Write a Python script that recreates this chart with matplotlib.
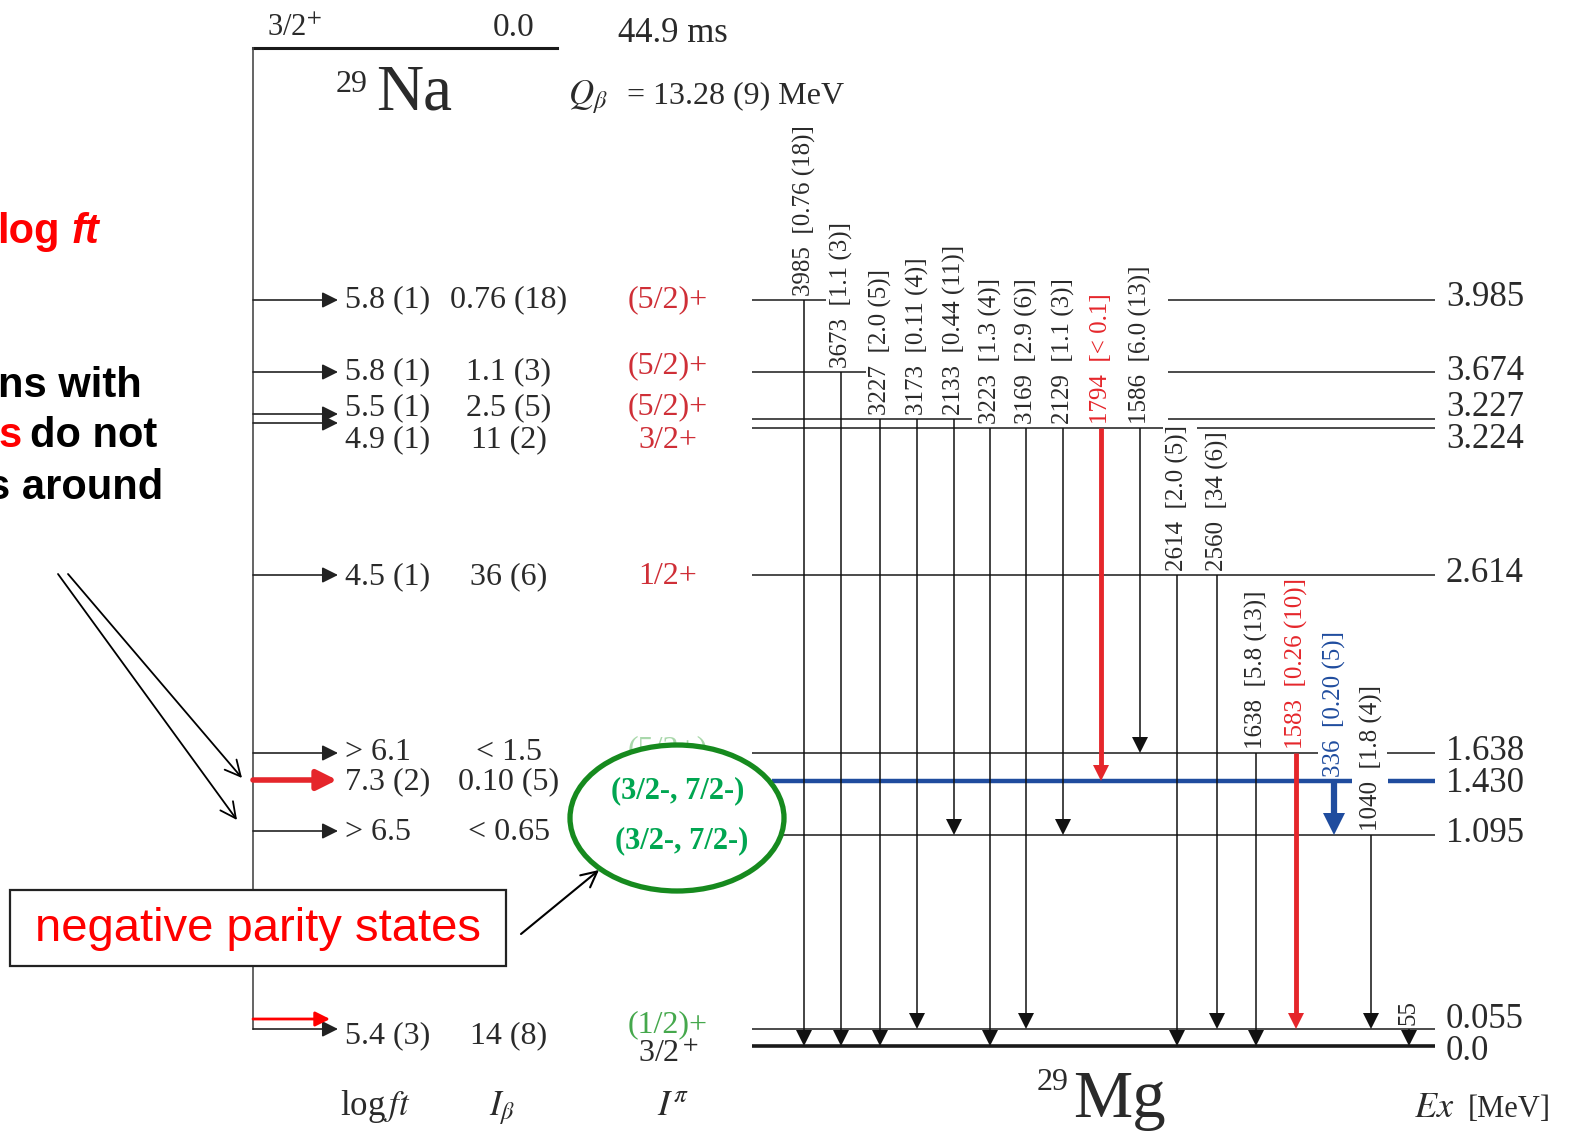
import matplotlib.pyplot as plt
from matplotlib.patches import Ellipse, Rectangle

plt.rcParams['font.family'] = ['Liberation Serif', 'DejaVu Serif']
plt.rcParams['mathtext.fontset'] = 'stix'

# 29Mg levels fed in the beta decay of 29Na
level_energy = ["3.985", "3.674", "3.227", "3.224", "2.614", "1.638", "1.430", "1.095", "0.055", "0.0"]
level_spin = ["(5/2)+", "(5/2)+", "(5/2)+", "3/2+", "1/2+", "(5/2+)",
              "(3/2-, 7/2-)", "(3/2-, 7/2-)", "(1/2)+", "3/2$^+$"]
feed_logft = ["5.8 (1)", "5.8 (1)", "5.5 (1)", "4.9 (1)", "4.5 (1)", "> 6.1", "7.3 (2)", "> 6.5", "5.4 (3)"]
feed_ibeta = ["0.76 (18)", "1.1 (3)", "2.5 (5)", "11 (2)", "36 (6)", "< 1.5", "0.10 (5)", "< 0.65", "14 (8)"]

# gamma transitions: energy [keV], intensity, initial level, final level (index into level lists)
gamma_energy = ["3985", "3673", "3227", "3173", "2133", "3223", "3169", "2129", "1794",
                "1586", "2614", "2560", "1638", "1583", "336", "1040", "55"]
gamma_inten = ["0.76 (18)", "1.1 (3)", "2.0 (5)", "0.11 (4)", "0.44 (11)", "1.3 (4)", "2.9 (6)",
               "1.1 (3)", "< 0.1", "6.0 (13)", "2.0 (5)", "34 (6)", "5.8 (13)", "0.26 (10)",
               "0.20 (5)", "1.8 (4)", ""]
gamma_from = [0, 1, 2, 2, 2, 3, 3, 3, 3, 3, 4, 4, 5, 5, 6, 7, 8]
gamma_to = [9, 9, 9, 8, 7, 9, 8, 7, 6, 5, 9, 8, 9, 8, 7, 8, 9]

# ---- layout (schematic, pixel units) ----
level_y = [300, 372, 419, 428, 575, 753, 781, 835, 1029, 1046]
level_segs = [[(752, 826), (1168, 1435)], [(752, 866), (1168, 1435)], [(752, 972), (1168, 1435)],
              [(752, 1163), (1197, 1435)], [(752, 1435)], [(752, 1318), (1387, 1435)],
              [(772, 1352), (1388, 1435)], [(775, 1435)], [(752, 1435)], [(752, 1435)]]
ex_y = [298, 372, 408, 440, 573, 751, 784, 834, 1020, 1051]
feed_y = [300, 372, 414, 423, 575, 753, 780, 831, 1029]
feed_text_y = [300, 372, 408, 440, 577, 753, 782, 832, 1036]
spin_y = [300, 366, 407, 440, 577, 750, 791, 841, 1025, 1055]
gamma_x = [804, 841, 880, 917, 954, 990, 1026, 1063, 1101, 1140, 1177, 1217, 1256, 1296, 1334, 1371, 1409]

TXT = '#2a2a2a'
RED = '#e5262b'
BLUE = '#1f4c9e'
SPIN_RED = '#cf2f37'
GREEN = '#00a651'
DKGREEN = '#168a1e'

spin_color = [SPIN_RED] * 5 + ['#a9d8ab', GREEN, GREEN, '#45a84c', TXT]
gamma_style = {"1794": (RED, 3.5, 12), "1583": (RED, 3.5, 12), "336": (BLUE, 4.5, 16)}

fig = plt.figure(figsize=(15.78, 11.32), dpi=100)
ax = fig.add_axes([0, 0, 1, 1])
ax.set_xlim(0, 1578)
ax.set_ylim(1132, 0)
ax.axis('off')

# parent 29Na
ax.plot([253, 557], [48, 48], color='#1a1a1a', lw=2.2)
ax.plot([253, 253], [48, 1029], color='#4a4a4a', lw=1.2)
ax.text(267, 29, "3/2$^{+}$", fontsize=22, color=TXT, va='center')
ax.text(493, 28, "0.0", fontsize=24, color=TXT, va='center')
ax.text(618, 34, "44.9 ms", fontsize=25, color=TXT, va='center')
ax.text(336, 92, "29", fontsize=23, color=TXT, va='baseline')
ax.text(376, 110, "Na", fontsize=47, color=TXT, va='baseline')
ax.text(568, 97, r"$Q_{\beta}$", fontsize=25, color=TXT, va='center')
ax.text(627, 96, "= 13.28 (9) MeV", fontsize=23, color=TXT, va='center')

# beta feeding arrows and columns
for i in range(len(feed_logft)):
    y = feed_y[i]
    if i == 6:
        ax.annotate("", xy=(337, y), xytext=(253, y),
                    arrowprops=dict(arrowstyle='-|>', color=RED, lw=4, mutation_scale=30,
                                    shrinkA=0, shrinkB=0))
    else:
        ax.annotate("", xy=(338, y), xytext=(253, y),
                    arrowprops=dict(arrowstyle='-|>', color='#222222', lw=1.2, mutation_scale=24,
                                    shrinkA=0, shrinkB=0))
    ax.text(345, feed_text_y[i], feed_logft[i], fontsize=23, color=TXT, va='center')
    ax.text(509, feed_text_y[i], feed_ibeta[i], fontsize=23, color=TXT, va='center', ha='center')
ax.annotate("", xy=(330, 1019), xytext=(253, 1019),
            arrowprops=dict(arrowstyle='-|>', color='red', lw=2, mutation_scale=22,
                            shrinkA=0, shrinkB=0))

# spin-parity column
for i, s in enumerate(level_spin):
    if i in (6, 7):
        continue
    ax.text(668, spin_y[i], s, fontsize=23, color=spin_color[i], va='center', ha='center')

ax.add_patch(Ellipse((677, 818), 214, 146, fc='white', ec=DKGREEN, lw=3.8, zorder=5))
for i in (6, 7):
    ax.text(678 + (i - 6) * 4, spin_y[i], level_spin[i], fontsize=22, color=GREEN,
            fontweight='bold', va='center', ha='center', zorder=6)

# 29Mg levels
for i, segs in enumerate(level_segs):
    col, lw = '#1a1a1a', 1.1
    if i == 6:
        col, lw = BLUE, 3.2
    elif i == 9:
        lw = 2.6
    for x0, x1 in segs:
        ax.plot([x0, x1], [level_y[i]] * 2, color=col, lw=lw, solid_capstyle='butt')
    ax.text(1446, ex_y[i], level_energy[i], fontsize=25, color=TXT, va='center')

# gamma transitions
for k, e in enumerate(gamma_energy):
    x = gamma_x[k]
    y0 = level_y[gamma_from[k]]
    y1 = level_y[gamma_to[k]]
    col, lw, ms = gamma_style.get(e, ('#111111', 1.1, 11))
    ax.plot([x, x], [y0, y1 - ms * 0.8], color=col, lw=lw, solid_capstyle='butt', zorder=3)
    ax.plot(x, y1 - ms * 100 / 72 / 2, marker='v', ms=ms, color=col, mew=0, zorder=3)
    lab = e if gamma_inten[k] == "" else f"{e}  [{gamma_inten[k]}]"
    tcol = col if e in gamma_style else TXT
    ax.text(x, y0 - 4, lab, rotation=90, fontsize=18, color=tcol, ha='center', va='bottom',
            zorder=4)

# daughter label and axis captions
ax.text(1037, 1090, "29", fontsize=23, color=TXT, va='baseline')
ax.text(1073, 1117, "Mg", fontsize=48, color=TXT, va='baseline')
ax.text(1414, 1117, "$Ex$", fontsize=26, color=TXT, va='baseline')
ax.text(1468, 1117, "[MeV]", fontsize=22, color=TXT, va='baseline')
ax.text(340, 1115, r"log$\,ft$", fontsize=25, color=TXT, va='baseline')
ax.text(489, 1115, r"$I_{\beta}$", fontsize=25, color=TXT, va='baseline')
ax.text(657, 1115, r"$I^{\pi}$", fontsize=26, color=TXT, va='baseline')

# slide annotations (cut at the left edge)
sans = 'Liberation Sans'
ax.text(-3, 232, "log", fontsize=30, color='red', fontweight='bold', family=sans, va='center')
ax.text(72, 232, "ft", fontsize=30, color='red', fontweight='bold', style='italic',
        family=sans, va='center')
ax.text(-2, 386, "ns with", fontsize=30, color='black', fontweight='bold', family=sans, va='center')
ax.text(-2, 436, "s", fontsize=30, color='red', fontweight='bold', family=sans, va='center')
ax.text(30, 436, "do not", fontsize=30, color='black', fontweight='bold', family=sans, va='center')
ax.text(-13, 488, "s around", fontsize=30, color='black', fontweight='bold', family=sans,
        va='center')

for start, end in [((58, 574), (237, 820)), ((68, 574), (242, 778))]:
    ax.annotate("", xy=end, xytext=start,
                arrowprops=dict(arrowstyle='->', color='black', lw=1.3, mutation_scale=28,
                                shrinkA=0, shrinkB=0))

ax.add_patch(Rectangle((10, 890), 496, 76, fc='white', ec='#222222', lw=1.6, zorder=5))
ax.text(258, 929, "negative parity states", fontsize=34, color='red', family=sans,
        ha='center', va='center', zorder=6)
ax.annotate("", xy=(599, 870), xytext=(521, 934),
            arrowprops=dict(arrowstyle='->', color='black', lw=1.5, mutation_scale=28,
                            shrinkA=0, shrinkB=0), zorder=6)

fig.savefig("out.png", dpi=100)
